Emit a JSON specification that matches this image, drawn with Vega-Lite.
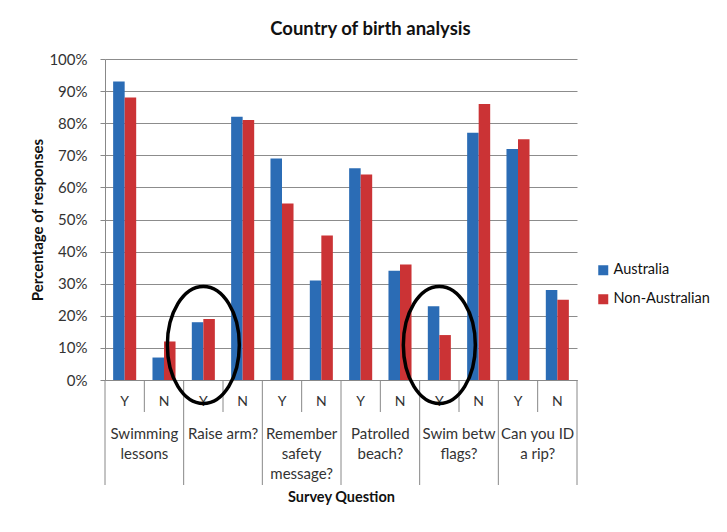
{
  "$schema": "https://vega.github.io/schema/vega-lite/v6.json",
  "padding": {"left": 30, "top": 19, "right": 10, "bottom": 10},
  "background": "white",
  "bounds": "flush",
  "spacing": 0,
  "title": {"text": "Country of birth analysis", "font": "Lato", "fontSize": 18.5, "fontWeight": "bold", "color": "#111", "anchor": "middle", "offset": 14},
  "config": {"view": {"stroke": null}, "font": "Lato"},
  "data": {"values": [
    {"q": "Swimming|lessons", "a": "Y", "cat": "Swimming lessons Y", "country": "Australia", "pct": 0.93},
    {"q": "Swimming|lessons", "a": "Y", "cat": "Swimming lessons Y", "country": "Non-Australian", "pct": 0.88},
    {"q": "Swimming|lessons", "a": "N", "cat": "Swimming lessons N", "country": "Australia", "pct": 0.07},
    {"q": "Swimming|lessons", "a": "N", "cat": "Swimming lessons N", "country": "Non-Australian", "pct": 0.12},
    {"q": "Raise arm?", "a": "Y", "cat": "Raise arm? Y", "country": "Australia", "pct": 0.18},
    {"q": "Raise arm?", "a": "Y", "cat": "Raise arm? Y", "country": "Non-Australian", "pct": 0.19},
    {"q": "Raise arm?", "a": "N", "cat": "Raise arm? N", "country": "Australia", "pct": 0.82},
    {"q": "Raise arm?", "a": "N", "cat": "Raise arm? N", "country": "Non-Australian", "pct": 0.81},
    {"q": "Remember|safety|message?", "a": "Y", "cat": "Remember safety message? Y", "country": "Australia", "pct": 0.69},
    {"q": "Remember|safety|message?", "a": "Y", "cat": "Remember safety message? Y", "country": "Non-Australian", "pct": 0.55},
    {"q": "Remember|safety|message?", "a": "N", "cat": "Remember safety message? N", "country": "Australia", "pct": 0.31},
    {"q": "Remember|safety|message?", "a": "N", "cat": "Remember safety message? N", "country": "Non-Australian", "pct": 0.45},
    {"q": "Patrolled|beach?", "a": "Y", "cat": "Patrolled beach? Y", "country": "Australia", "pct": 0.66},
    {"q": "Patrolled|beach?", "a": "Y", "cat": "Patrolled beach? Y", "country": "Non-Australian", "pct": 0.64},
    {"q": "Patrolled|beach?", "a": "N", "cat": "Patrolled beach? N", "country": "Australia", "pct": 0.34},
    {"q": "Patrolled|beach?", "a": "N", "cat": "Patrolled beach? N", "country": "Non-Australian", "pct": 0.36},
    {"q": "Swim betw|flags?", "a": "Y", "cat": "Swim betw flags? Y", "country": "Australia", "pct": 0.23},
    {"q": "Swim betw|flags?", "a": "Y", "cat": "Swim betw flags? Y", "country": "Non-Australian", "pct": 0.14},
    {"q": "Swim betw|flags?", "a": "N", "cat": "Swim betw flags? N", "country": "Australia", "pct": 0.77},
    {"q": "Swim betw|flags?", "a": "N", "cat": "Swim betw flags? N", "country": "Non-Australian", "pct": 0.86},
    {"q": "Can you ID|a rip?", "a": "Y", "cat": "Can you ID a rip? Y", "country": "Australia", "pct": 0.72},
    {"q": "Can you ID|a rip?", "a": "Y", "cat": "Can you ID a rip? Y", "country": "Non-Australian", "pct": 0.75},
    {"q": "Can you ID|a rip?", "a": "N", "cat": "Can you ID a rip? N", "country": "Australia", "pct": 0.28},
    {"q": "Can you ID|a rip?", "a": "N", "cat": "Can you ID a rip? N", "country": "Non-Australian", "pct": 0.25}
  ]},
  "vconcat": [
    {
      "width": 472,
      "height": 321,
      "mark": {"type": "bar"},
      "encoding": {
        "x": {"field": "cat", "type": "nominal", "sort": null,
          "scale": {"domain": ["Swimming lessons Y","Swimming lessons N","Raise arm? Y","Raise arm? N","Remember safety message? Y","Remember safety message? N","Patrolled beach? Y","Patrolled beach? N","Swim betw flags? Y","Swim betw flags? N","Can you ID a rip? Y","Can you ID a rip? N"], "paddingInner": 0.414, "paddingOuter": 0.207},
          "axis": {"labels": false, "ticks": false, "title": null, "grid": false, "domain": true, "domainColor": "#888"}},
        "xOffset": {"field": "country", "type": "nominal", "sort": ["Australia", "Non-Australian"]},
        "y": {"field": "pct", "type": "quantitative", "scale": {"domain": [0, 1], "nice": false},
          "axis": {"format": ".0%", "values": [0,0.1,0.2,0.3,0.4,0.5,0.6,0.7,0.8,0.9,1], "tickCount": 20, "labelOverlap": false,
            "title": "Percentage of responses",
            "titleFont": "Lato", "titleFontSize": 15, "titleFontWeight": "bold", "titleColor": "#111", "titlePadding": 3,
            "labelFont": "Lato", "labelFontSize": 15, "labelColor": "#333", "labelPadding": 13,
            "tickSize": 5, "tickColor": "#888", "domainColor": "#888", "gridColor": "#8c8c8c", "grid": true}},
        "color": {"field": "country", "type": "nominal",
          "scale": {"domain": ["Australia", "Non-Australian"], "range": ["#2B6CB5", "#CB3335"]},
          "legend": {"title": null, "orient": "none", "legendX": 491, "legendY": 204, "symbolType": "square", "symbolSize": 100, "symbolStrokeWidth": 0, "labelFont": "Lato", "labelFontSize": 14.5, "labelColor": "#111", "rowPadding": 14, "labelOffset": 3}}
      }
    },
    {
      "width": 472,
      "height": 105,
      "transform": [{"filter": "datum.country == 'Australia'"}],
      "layer": [
        {
          "mark": {"type": "text", "font": "Lato", "fontSize": 14, "color": "#333", "baseline": "middle"},
          "encoding": {
            "x": {"field": "cat", "type": "nominal", "sort": null,
              "scale": {"domain": ["Swimming lessons Y","Swimming lessons N","Raise arm? Y","Raise arm? N","Remember safety message? Y","Remember safety message? N","Patrolled beach? Y","Patrolled beach? N","Swim betw flags? Y","Swim betw flags? N","Can you ID a rip? Y","Can you ID a rip? N"], "paddingInner": 0, "paddingOuter": 0},
              "axis": {"labels": false, "ticks": false, "domain": false, "title": "Survey Question", "titleFont": "Lato", "titleFontSize": 14.5, "titleFontWeight": "bold", "titleColor": "#111", "titlePadding": 5}},
            "y": {"datum": 22, "type": "quantitative", "scale": {"domain": [0, 105], "reverse": true, "nice": false, "zero": false}, "axis": null},
            "text": {"field": "a"}
          }
        },
        {
          "transform": [{"filter": "datum.a == 'N'"}],
          "mark": {"type": "text", "font": "Lato", "fontSize": 15, "color": "#333", "baseline": "middle", "lineBreak": "|", "lineHeight": 20},
          "encoding": {
            "x": {"field": "cat", "type": "nominal", "sort": null, "bandPosition": 0},
            "y": {"datum": 54, "type": "quantitative"},
            "text": {"field": "q"}
          }
        },
        {
          "transform": [{"filter": "datum.a == 'N'"}],
          "mark": {"type": "rule", "color": "#888"},
          "encoding": {
            "x": {"field": "cat", "type": "nominal", "sort": null, "bandPosition": 0},
            "y": {"datum": 0, "type": "quantitative"},
            "y2": {"datum": 32}
          }
        },
        {
          "transform": [{"filter": "datum.a == 'Y'"}],
          "mark": {"type": "rule", "color": "#888"},
          "encoding": {
            "x": {"field": "cat", "type": "nominal", "sort": null, "bandPosition": 0},
            "y": {"datum": 0, "type": "quantitative"},
            "y2": {"datum": 105}
          }
        },
        {
          "transform": [{"filter": "datum.cat == 'Can you ID a rip? N'"}],
          "mark": {"type": "rule", "color": "#888"},
          "encoding": {
            "x": {"field": "cat", "type": "nominal", "sort": null, "bandPosition": 1},
            "y": {"datum": 0, "type": "quantitative"},
            "y2": {"datum": 105}
          }
        },
        {
          "transform": [{"filter": {"field": "cat", "oneOf": ["Raise arm? Y", "Swim betw flags? Y"]}}],
          "mark": {"type": "point", "shape": "M-0.615,0A0.615,1,0,1,1,0.615,0A0.615,1,0,1,1,-0.615,0Z", "size": 13700, "filled": false, "stroke": "black", "strokeWidth": 3.5, "opacity": 1, "clip": false},
          "encoding": {
            "x": {"field": "cat", "type": "nominal", "sort": null},
            "y": {"datum": -35, "type": "quantitative"}
          }
        }
      ]
    }
  ]
}
